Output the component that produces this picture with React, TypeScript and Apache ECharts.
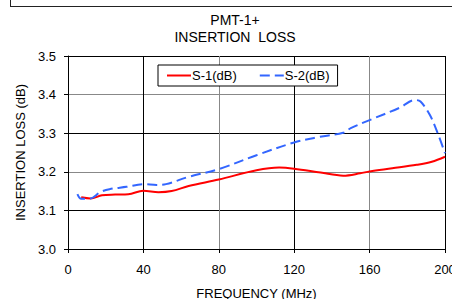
import React, { useEffect, useRef } from "react";
import * as echarts from "echarts";

const s1Freq = [7, 12, 18, 25, 32, 40, 48, 55, 64, 80, 100, 112, 120, 134, 146, 155, 160, 172, 185, 193, 200];
const s1Loss = [3.134, 3.131, 3.139, 3.141, 3.142, 3.151, 3.147, 3.15, 3.163, 3.18, 3.204, 3.211, 3.208, 3.198, 3.19, 3.196, 3.201, 3.209, 3.218, 3.226, 3.239];
const s2Freq = [5, 7, 12, 17, 22, 31, 40, 47, 52, 64, 80, 100, 120, 133, 146, 150, 160, 176, 184, 187, 192, 196.5, 200];
const s2Loss = [3.142, 3.13, 3.131, 3.147, 3.155, 3.161, 3.168, 3.166, 3.168, 3.187, 3.207, 3.243, 3.276, 3.29, 3.301, 3.313, 3.334, 3.366, 3.386, 3.382, 3.347, 3.295, 3.248];
const seriesNames = ["S-1(dB)", "S-2(dB)"];
const titleLines = ["PMT-1+", "INSERTION  LOSS"];

const FONT = "'Liberation Sans', Arial, sans-serif";

export default function App() {
  const ref = useRef<HTMLDivElement>(null);
  useEffect(() => {
    document.body.style.margin = "0";
    const chart = echarts.init(ref.current!, null, { renderer: "svg" });
    chart.setOption({
      animation: false,
      textStyle: { fontFamily: FONT },
      graphic: [
        { type: "line", shape: { x1: 10, y1: 6.5, x2: 452, y2: 6.5 }, style: { stroke: "#222", lineWidth: 1 } },
        { type: "line", shape: { x1: 10.5, y1: 0, x2: 10.5, y2: 6.5 }, style: { stroke: "#222", lineWidth: 1 } },
        { type: "text", x: 235, y: 13, style: { text: titleLines[0], fontFamily: FONT, fontSize: 14, fill: "#000", textAlign: "center" } },
        { type: "text", x: 235, y: 30, style: { text: titleLines[1], fontFamily: FONT, fontSize: 14, fill: "#000", textAlign: "center" } },
      ],
      grid: { left: 68, right: 7, top: 56, bottom: 50, outerBoundsMode: "none", containLabel: false },
      legend: {
        left: 158,
        top: 65,
        padding: [4, 8, 4, 8],
        itemGap: 22,
        itemWidth: 24,
        itemHeight: 10,
        borderColor: "#000",
        borderWidth: 1,
        backgroundColor: "#fff",
        itemStyle: { opacity: 0 },
        textStyle: { fontFamily: FONT, fontSize: 13, color: "#000", padding: [0, 0, 0, -4] },
        data: seriesNames,
      },
      xAxis: {
        type: "value",
        min: 0,
        max: 200,
        interval: 40,
        name: "FREQUENCY (MHz)",
        nameLocation: "middle",
        nameGap: 38,
        nameTextStyle: { fontFamily: FONT, fontSize: 13, color: "#000" },
        axisLine: { lineStyle: { color: "#000", width: 1 } },
        axisTick: { show: true, length: 4, lineStyle: { color: "#000" } },
        axisLabel: { fontFamily: FONT, fontSize: 13, color: "#000", margin: 14, showMaxLabel: true },
        splitLine: { show: true, lineStyle: { color: ["#888", "#000"], width: 1 } },
      },
      yAxis: {
        type: "value",
        min: 3.0,
        max: 3.5,
        interval: 0.1,
        name: "INSERTION LOSS (dB)",
        nameLocation: "middle",
        nameGap: 40,
        nameTextStyle: { fontFamily: FONT, fontSize: 13, color: "#000" },
        axisLine: { show: true, lineStyle: { color: "#000", width: 1 } },
        axisTick: { show: true, length: 4, lineStyle: { color: "#000" } },
        axisLabel: { fontFamily: FONT, fontSize: 13, color: "#000", margin: 12, formatter: (v: number) => v.toFixed(1) },
        splitLine: { show: true, lineStyle: { color: ["#888", "#000"], width: 1 } },
      },
      series: [
        {
          name: seriesNames[0],
          type: "line",
          data: s1Freq.map((f, i) => [f, s1Loss[i]]),
          smooth: 0.35,
          symbol: "none",
          lineStyle: { color: "#ff0000", width: 2 },
          itemStyle: { color: "#ff0000" },
          z: 3,
        },
        {
          name: seriesNames[1],
          type: "line",
          data: s2Freq.map((f, i) => [f, s2Loss[i]]),
          smooth: 0.35,
          symbol: "none",
          lineStyle: { color: "#3366ff", width: 2, type: [10, 5] },
          itemStyle: { color: "#3366ff" },
          z: 4,
        },
      ],
    });
    return () => chart.dispose();
  }, []);
  return <div ref={ref} style={{ width: 452, height: 299 }} />;
}
